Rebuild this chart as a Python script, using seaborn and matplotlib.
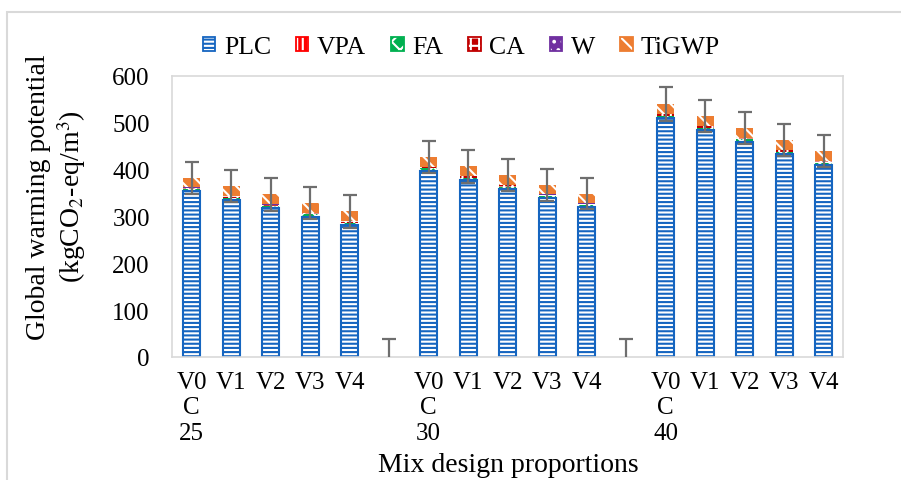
import numpy as np
import pandas as pd
import matplotlib
matplotlib.use('Agg')
import matplotlib.pyplot as plt
import matplotlib.patches as mpatches
from matplotlib.legend_handler import HandlerTuple
import seaborn as sns

# 数据
mixes = ['C25V0', 'C25V1', 'C25V2', 'C25V3', 'C25V4', 'gap1',
         'C30V0', 'C30V1', 'C30V2', 'C30V3', 'C30V4', 'gap2',
         'C40V0', 'C40V1', 'C40V2', 'C40V3', 'C40V4']
tick_labels = ['V0\nC\n25', 'V1', 'V2', 'V3', 'V4', '',
               'V0\nC\n30', 'V1', 'V2', 'V3', 'V4', '',
               'V0\nC\n40', 'V1', 'V2', 'V3', 'V4']
bar_mixes = [m for m in mixes if not m.startswith('gap')]

plc = [353.5, 335.5, 317.5, 299.5, 281.5,
       397.5, 377.5, 358.5, 338.5, 319.5,
       510.5, 484.5, 459.5, 433.5, 409.5]
vpa = [1.0, 1.0, 1.0, 1.0, 1.0, 1.0, 1.0, 1.0, 1.0, 1.0, 1.0, 1.0, 1.0, 1.0, 1.0]
fa = [4.0, 4.0, 4.0, 4.0, 4.0, 4.0, 4.0, 4.0, 4.0, 4.0, 4.0, 4.0, 4.0, 4.0, 4.0]
ca = [3.0, 3.0, 3.0, 3.0, 3.0, 3.0, 3.0, 3.0, 3.0, 3.0, 3.0, 3.0, 3.0, 3.0, 3.0]
w = [0.5, 0.5, 0.5, 0.5, 0.5, 0.5, 0.5, 0.5, 0.5, 0.5, 0.5, 0.5, 0.5, 0.5, 0.5]
tigwp = [21.0, 21.0, 21.0, 21.0, 21.0, 21.0, 21.0, 21.0, 21.0, 21.0, 21.0, 21.0, 21.0, 21.0, 21.0]
# 误差（包括两个空位处的误差线）
err = [34, 34, 35, 35, 34.5, 38,
       34, 34.5, 34, 34, 34, 38,
       35.5, 34, 34, 34, 34]

components = ['PLC', 'VPA', 'FA', 'CA', 'W', 'TiGWP']
comp_values = [plc, vpa, fa, ca, w, tigwp]
face_colors = ['white', '#ff0000', '#00b050', '#c00000', '#7030a0', '#ed7d31']
edge_colors = ['#1565c0', '#ff0000', '#00b050', '#c00000', '#7030a0', '#ed7d31']
hatches = ['----', '|||', 'xx', '++', '..', '\\\\']

# 字体设置
plt.rcParams['font.family'] = ['Liberation Serif', 'DejaVu Serif']
plt.rcParams['mathtext.fontset'] = 'stix'
plt.rcParams['hatch.linewidth'] = 1.5

df = pd.DataFrame({'mix': bar_mixes})
cum = np.zeros(len(bar_mixes))
for name, vals in zip(components, comp_values):
    cum = cum + np.array(vals)
    df[name] = cum

fig = plt.figure(figsize=(9.01, 4.81), dpi=100)
ax = fig.add_axes([172 / 901, 123 / 481, 671.5 / 901, 281 / 481])

# 从最上层开始画累计柱，下一层覆盖上一层
for i in range(len(components) - 1, -1, -1):
    name = components[i]
    if name == 'PLC':
        kw = dict(edgecolor=edge_colors[i], linewidth=1.5)
    else:
        kw = dict(edgecolor='white', linewidth=0)
    sns.barplot(data=df, x='mix', y=name, order=mixes, color=face_colors[i],
                saturation=1, width=0.43, errorbar=None, hatch=hatches[i],
                ax=ax, **kw)

# 误差线
totals = dict(zip(bar_mixes, df['TiGWP']))
pos = np.arange(len(mixes))
centers = [totals.get(m, 0.0) for m in mixes]
ax.errorbar(pos, centers, yerr=err, fmt='none', ecolor='#6e6e6e',
            elinewidth=1.6, capsize=5, capthick=1.6, zorder=5)

ax.set_xlim(-0.5, len(mixes) - 0.5)
ax.set_ylim(0, 600)
ax.set_yticks(range(0, 601, 100))
ax.set_xticks(pos)
ax.set_xticklabels(tick_labels)
ax.tick_params(axis='both', length=0, labelsize=18)
ax.tick_params(axis='x', pad=10)
ax.tick_params(axis='y', pad=16)
ax.set_xlabel('')
ax.set_ylabel('')
for s in ax.spines.values():
    s.set_color('#d9d9d9')
    s.set_linewidth(1.2)

fig.text(57 / 901, 1 - 197 / 481, 'Global warming potential\n(kgCO$_2$-eq/m$^3$)',
         rotation=90, ha='center', va='center', multialignment='center', fontsize=20)
fig.text(508 / 901, 1 - 466 / 481, 'Mix design proportions',
         ha='center', va='center', fontsize=20)

# 图例：填充+白色纹理，再叠一个彩色边框
handles = []
for i, name in enumerate(components):
    if name == 'PLC':
        fill = mpatches.Patch(facecolor='white', edgecolor=edge_colors[i], linewidth=0,
                              hatch=hatches[i])
    else:
        fill = mpatches.Patch(facecolor=face_colors[i], edgecolor='white', linewidth=0,
                              hatch=hatches[i])
    border = mpatches.Patch(fill=False, edgecolor=edge_colors[i], linewidth=1.3)
    handles.append((fill, border))
fig.legend(handles=handles, labels=components, handler_map={tuple: HandlerTuple(ndivide=1)},
           loc='center left', bbox_to_anchor=(203 / 901, 1 - 48 / 481),
           ncol=6, frameon=False, borderpad=0, borderaxespad=0, handlelength=0.48,
           handleheight=0.48, handletextpad=0.33, columnspacing=0.98, fontsize=18.5)

# 外框
frame = mpatches.Rectangle((7 / 901, -0.1), 1.2, 1 - 13 / 481 + 0.1, transform=fig.transFigure,
                           fill=False, edgecolor='#d9d9d9', linewidth=1.5)
fig.add_artist(frame)

fig.savefig('out.png', dpi=100)
